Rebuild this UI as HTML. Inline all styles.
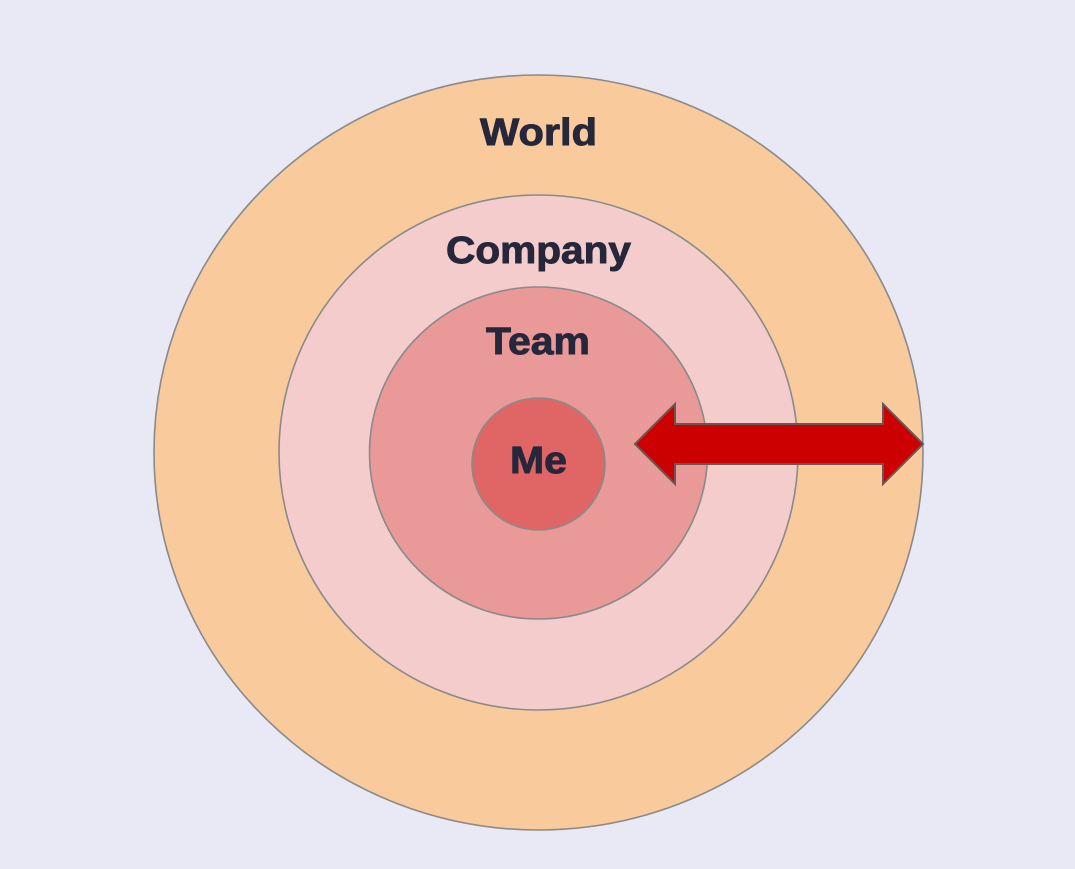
<!DOCTYPE html>
<html>
<head>
<meta charset="utf-8">
<style>
html,body{margin:0;padding:0;width:1075px;height:869px;overflow:hidden;background:#e8e9f4}
svg{display:block}
text{font-family:"Liberation Sans",sans-serif;font-weight:700;font-size:38px;fill:#26273b;stroke:#26273b;stroke-width:0.9px}
</style>
</head>
<body>
<svg width="1075" height="869" viewBox="0 0 1075 869" xmlns="http://www.w3.org/2000/svg">
<rect width="1075" height="869" fill="#e8e9f4"/>
<ellipse cx="538.5" cy="452.5" rx="384.5" ry="377.5" fill="#f9cb9c" stroke="#8a8a8a" stroke-width="1.6"/>
<ellipse cx="538.5" cy="452.5" rx="259.5" ry="257.5" fill="#f4cccc" stroke="#8a8a8a" stroke-width="1.6"/>
<ellipse cx="538.5" cy="453" rx="169" ry="166" fill="#ea9999" stroke="#8a8a8a" stroke-width="1.6"/>
<ellipse cx="538.5" cy="464" rx="66.5" ry="66" fill="#e06666" stroke="#8a8a8a" stroke-width="1.6"/>
<polygon points="635,444 675,404 675,424 883,424 883,404 923,444 883,484 883,464 675,464 675,484" fill="#cc0000" stroke="#6b5555" stroke-width="2"/>
<text x="480" y="145" textLength="117" lengthAdjust="spacingAndGlyphs">World</text>
<text x="446" y="263" textLength="185" lengthAdjust="spacingAndGlyphs">Company</text>
<text x="486" y="354" textLength="104" lengthAdjust="spacingAndGlyphs">Team</text>
<text x="510" y="473" textLength="57" lengthAdjust="spacingAndGlyphs">Me</text>
</svg>
</body>
</html>
